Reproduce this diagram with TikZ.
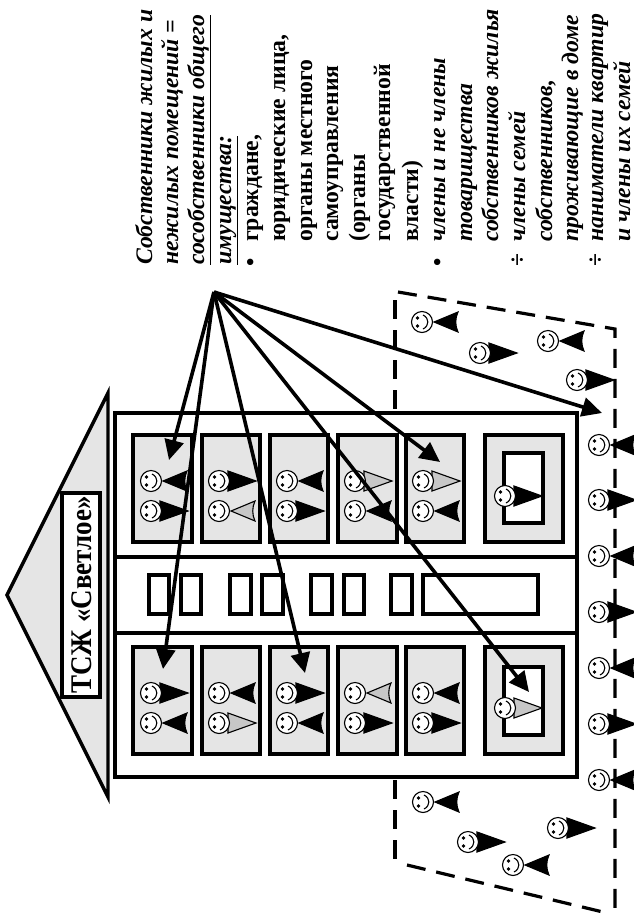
\documentclass[tikz,border=0pt]{standalone}
\usepackage{fontspec}
\setmainfont{Liberation Serif}
\usepackage{graphicx}
\usepackage{tikz}
\usetikzlibrary{arrows.meta}
\definecolor{roofgray}{gray}{0.90}
\definecolor{bodygray}{gray}{0.78}
\tikzset{
  headline/.style={line width=1.1pt},
  wall/.style={line width=3.4pt},
  flat/.style={wall,fill=roofgray},
  yard/.style={line width=3.2pt,dash pattern=on 19pt off 11pt},
  pointer/.style={line width=3.6pt,-{Triangle[length=20pt,width=19pt]}},
  rowtext/.style={font=\fontsize{23.7}{23.7}\selectfont\bfseries,rotate=90,anchor=base west,inner sep=0pt},
  pics/head/.style={code={
    \draw[headline,fill=white] (0,0) circle (10.5);
    \fill (-4.5,-4) circle (1.8);
    \fill (-4.5,4) circle (1.8);
    \draw[headline] (1,-7) .. controls (7.5,-4) and (7.5,4) .. (1,7);
  }},
  pics/personr/.style={code={
    \draw[headline,fill=#1] (9,-10) -- (37,0) -- (9,10) -- cycle;
    \pic {head};
  }},
  pics/personl/.style={code={
    \draw[headline,fill=#1] (12,0) -- (36,-10) .. controls (33,-4) and (33,4) .. (36,10) -- cycle;
    \pic {head};
  }}
}
\begin{document}
\begin{tikzpicture}[x=1pt,y=-1pt]
\useasboundingbox (0,0) rectangle (634,914);
% Yard
\draw[yard] (398,292) -- (615,329) -- (615,914);
\draw[yard] (395,300) -- (395,864);
\draw[yard] (407,865) -- (603,912);
% Roof
\draw[wall,fill=roofgray] (108,393) -- (7,595) -- (108,797) -- cycle;
\node[draw,wall,fill=white,minimum width=38pt,minimum height=204pt,inner sep=0pt] (sign) at (81,595) {};
\node[rotate=90,font=\fontsize{30}{30}\selectfont\bfseries,inner sep=0pt] (signtext) at (81.5,595) {\scalebox{0.9}[1]{ТСЖ «Светлое»}};
% House
\draw[wall,fill=white] (115,413) rectangle (577,777);
\draw[wall] (115,557) -- (577,557);
\draw[wall] (115,633) -- (577,633);
% Flats
\foreach \wx/\wxx in {133/192,202/260,270/328,338/397,406/464,485/563} {
  \draw[flat] (\wx,435) rectangle (\wxx,542);
  \draw[flat] (\wx,647) rectangle (\wxx,754);
}
% Doors
\draw[wall,fill=white] (504,453) rectangle (543,523);
\draw[wall,fill=white] (504,667) rectangle (543,735);
% Stairs
\foreach \wx/\wxx in {149/169,181/201,230/251,262/283,311/332,344/364,391/412,423/538} {
  \draw[wall] (\wx,575) rectangle (\wxx,614);
}
% People, tip away from the head
\foreach \px/\py/\pc in {151/511/black,219/481/black,287/511/black,355/481/bodygray,423/481/bodygray,505/496/black,
  151/693/black,287/693/black,219/723/bodygray,355/723/black,423/723/black,505/708/bodygray,
  599/500/black,599/612/black,599/724/black,480/353/black,577/380/black,468/842/black,558/828/black} {
  \pic at (\px,\py) {personr=\pc};
}
% People, tip at the head
\foreach \px/\py/\pc in {151/481/black,219/511/bodygray,287/481/black,355/511/black,423/511/black,
  219/693/black,355/693/bodygray,423/693/black,151/723/black,287/723/black,
  599/445/black,599/556/black,599/668/black,599/780/black,422/322/black,548/341/black,423/802/black,513/865/black} {
  \pic at (\px,\py) {personl=\pc};
}
% Arrows
\coordinate (src) at (214,292);
\coordinate (flatA) at (169,460);
\coordinate (flatB) at (163,669);
\coordinate (flatC) at (305,673);
\coordinate (flatD) at (529,692);
\coordinate (flatE) at (440,462);
\coordinate (flatF) at (602,413);
\foreach \t in {flatA,flatB,flatC,flatD,flatE,flatF} {
  \draw[pointer] (src) -- (\t);
}
% Text
\foreach \bx/\bt [count=\i] in {152/Собственники жилых и,178/нежилых помещений =,204/\underline{сособственники общего},231/\underline{имущества:}} {
  \node[rowtext,font=\fontsize{23.7}{23.7}\selectfont\bfseries\itshape] (head\i) at (\bx,265) {\bt};
}
\foreach \bx/\bt [count=\i] in {258/{граждане,},285/{юридические лица,},312/органы местного,338/самоуправления,365/(органы,390/государственной,418/власти)} {
  \node[rowtext] (own\i) at (\bx,242) {\bt};
}
\foreach \bx/\bt [count=\i] in {445/члены и не члены,472/товарищества,498/собственников жилья,525/члены семей,552/{собственников,},578/проживающие в доме,603/наниматели квартир,630/и члены их семей} {
  \node[rowtext,font=\fontsize{23.7}{23.7}\selectfont\bfseries\itshape] (memb\i) at (\bx,242) {\bt};
}
\foreach \bx/\bt [count=\i] in {258/•,445/•,525/÷,603/÷} {
  \node[rowtext] (mark\i) at (\bx,267) {\bt};
}
\end{tikzpicture}
\end{document}
